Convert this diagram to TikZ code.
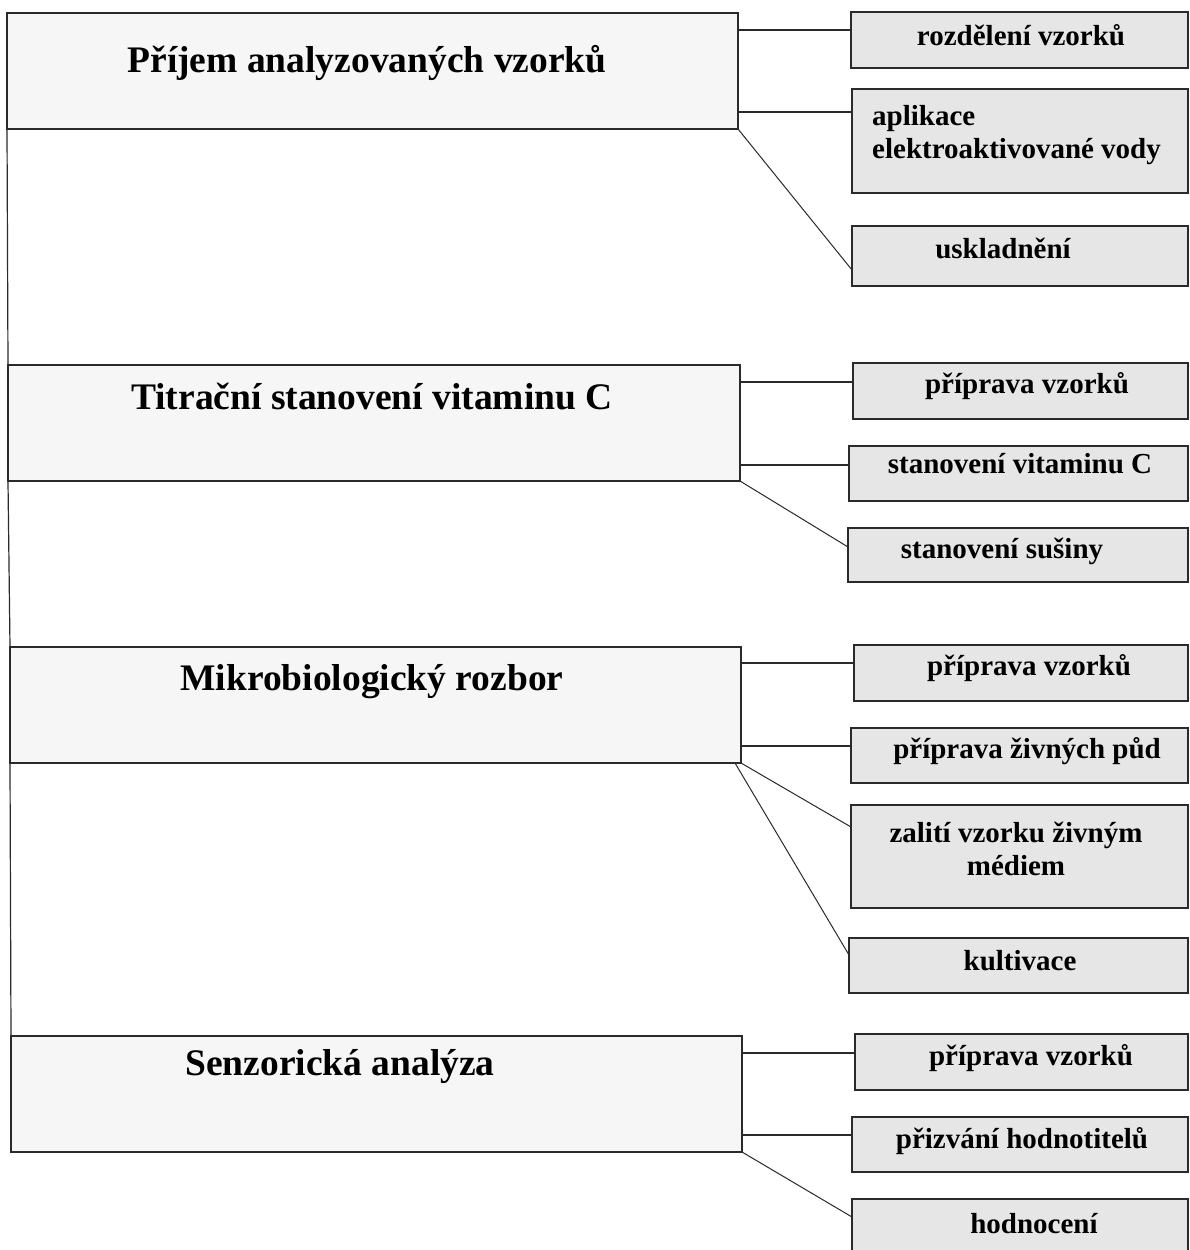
\documentclass[tikz,border=0pt]{standalone}
\usepackage{fontspec}
\setmainfont{Liberation Serif}
\definecolor{mainfill}{HTML}{F6F6F6}
\definecolor{subfill}{HTML}{E6E6E6}
\definecolor{linec}{HTML}{2A2A2A}
\tikzset{
  mainbox/.style={draw=linec, line width=1.3pt, fill=mainfill, inner sep=0pt, outer sep=0pt},
  subbox/.style={draw=linec, line width=1.3pt, fill=subfill, inner sep=0pt, outer sep=0pt},
  titletext/.style={anchor=base, inner sep=0pt, font=\fontsize{37.5}{42}\selectfont\bfseries},
  subtext/.style={anchor=base, inner sep=0pt, font=\fontsize{29}{33}\selectfont\bfseries},
  conn/.style={draw=linec, line width=1.2pt},
  diag/.style={draw=linec, line width=1pt}
}
\begin{document}
\begin{tikzpicture}[x=1pt,y=-1pt]
\useasboundingbox[fill=white] (0,0) rectangle (1190,1250);

% main boxes
\node[mainbox, minimum width=731pt, minimum height=116pt] (m1) at (372.5,71) {};
\node[mainbox, minimum width=732pt, minimum height=116pt] (m2) at (374,423) {};
\node[mainbox, minimum width=731pt, minimum height=116pt] (m3) at (375.5,705) {};
\node[mainbox, minimum width=731pt, minimum height=116pt] (m4) at (376.5,1094) {};

\node[titletext] (t1) at (367,72) {Příjem analyzovaných vzorků};
\node[titletext] (t2) at (372,409) {Titrační stanovení vitaminu C};
\node[titletext] (t3) at (372,690) {Mikrobiologický rozbor};
\node[titletext] (t4) at (340,1075) {Senzorická analýza};

% left spine
\draw[conn] (m1.south west) -- (m2.north west);
\draw[conn] (m2.south west) -- (m3.north west);
\draw[conn] (m3.south west) -- (m4.north west);

% sub boxes group 1
\node[subbox, minimum width=337pt, minimum height=56pt] (s11) at (1019.5,40) {};
\node[subbox, minimum width=336pt, minimum height=104pt] (s12) at (1020,141) {};
\node[subbox, minimum width=336pt, minimum height=60pt] (s13) at (1020,256) {};
% group 2
\node[subbox, minimum width=335pt, minimum height=56pt] (s21) at (1020.5,391) {};
\node[subbox, minimum width=339pt, minimum height=55pt] (s22) at (1018.5,473.5) {};
\node[subbox, minimum width=340pt, minimum height=54pt] (s23) at (1018,555) {};
% group 3
\node[subbox, minimum width=334pt, minimum height=56pt] (s31) at (1021,673) {};
\node[subbox, minimum width=337pt, minimum height=55pt] (s32) at (1019.5,755.5) {};
\node[subbox, minimum width=337pt, minimum height=103pt] (s33) at (1019.5,856.5) {};
\node[subbox, minimum width=339pt, minimum height=55pt] (s34) at (1018.5,965.5) {};
% group 4
\node[subbox, minimum width=333pt, minimum height=56pt] (s41) at (1021.5,1062) {};
\node[subbox, minimum width=336pt, minimum height=55pt] (s42) at (1020,1144.5) {};
\node[subbox, minimum width=336pt, minimum height=61pt] (s43) at (1020,1229.5) {};

% sub texts
\node[subtext] (u11) at (1021,45) {rozdělení vzorků};
\node[subtext, anchor=base west] (u12a) at (872,125) {aplikace};
\node[subtext, anchor=base west] (u12b) at (872,158) {elektroaktivované vody};
\node[subtext] (u13) at (1003,258) {uskladnění};
\node[subtext] (u21) at (1027,393) {příprava vzorků};
\node[subtext] (u22) at (1020,473) {stanovení vitaminu C};
\node[subtext] (u23) at (1002,558) {stanovení sušiny};
\node[subtext] (u31) at (1029,675) {příprava vzorků};
\node[subtext] (u32) at (1027,758) {příprava živných půd};
\node[subtext] (u33a) at (1016,842) {zalití vzorku živným};
\node[subtext] (u33b) at (1016,875) {médiem};
\node[subtext] (u34) at (1020,970) {kultivace};
\node[subtext] (u41) at (1031,1065) {příprava vzorků};
\node[subtext] (u42) at (1022,1148) {přizvání hodnotitelů};
\node[subtext] (u43) at (1034,1233) {hodnocení};

% connectors group 1
\draw[conn] ([yshift=-18pt]s11.north west -| m1.east) -- ([yshift=-18pt]s11.north west);
\draw[conn] ([yshift=-23pt]s12.north west -| m1.east) -- ([yshift=-23pt]s12.north west);
\draw[diag] (m1.south east) -- ([yshift=-44pt]s13.north west);
% group 2
\draw[conn] ([yshift=-19pt]s21.north west -| m2.east) -- ([yshift=-19pt]s21.north west);
\draw[conn] ([yshift=-19pt]s22.north west -| m2.east) -- ([yshift=-19pt]s22.north west);
\draw[diag] (m2.south east) -- ([yshift=-19pt]s23.north west);
% group 3
\draw[conn] ([yshift=-18pt]s31.north west -| m3.east) -- ([yshift=-18pt]s31.north west);
\draw[conn] ([yshift=-18pt]s32.north west -| m3.east) -- ([yshift=-18pt]s32.north west);
\draw[diag] (m3.south east) -- ([yshift=-22pt]s33.north west);
\draw[diag] ([xshift=-6pt]m3.south east) -- ([yshift=-17pt]s34.north west);
% group 4
\draw[conn] ([yshift=-19pt]s41.north west -| m4.east) -- ([yshift=-19pt]s41.north west);
\draw[conn] ([yshift=-18pt]s42.north west -| m4.east) -- ([yshift=-18pt]s42.north west);
\draw[diag] (m4.south east) -- ([yshift=-18pt]s43.north west);
\end{tikzpicture}
\end{document}
